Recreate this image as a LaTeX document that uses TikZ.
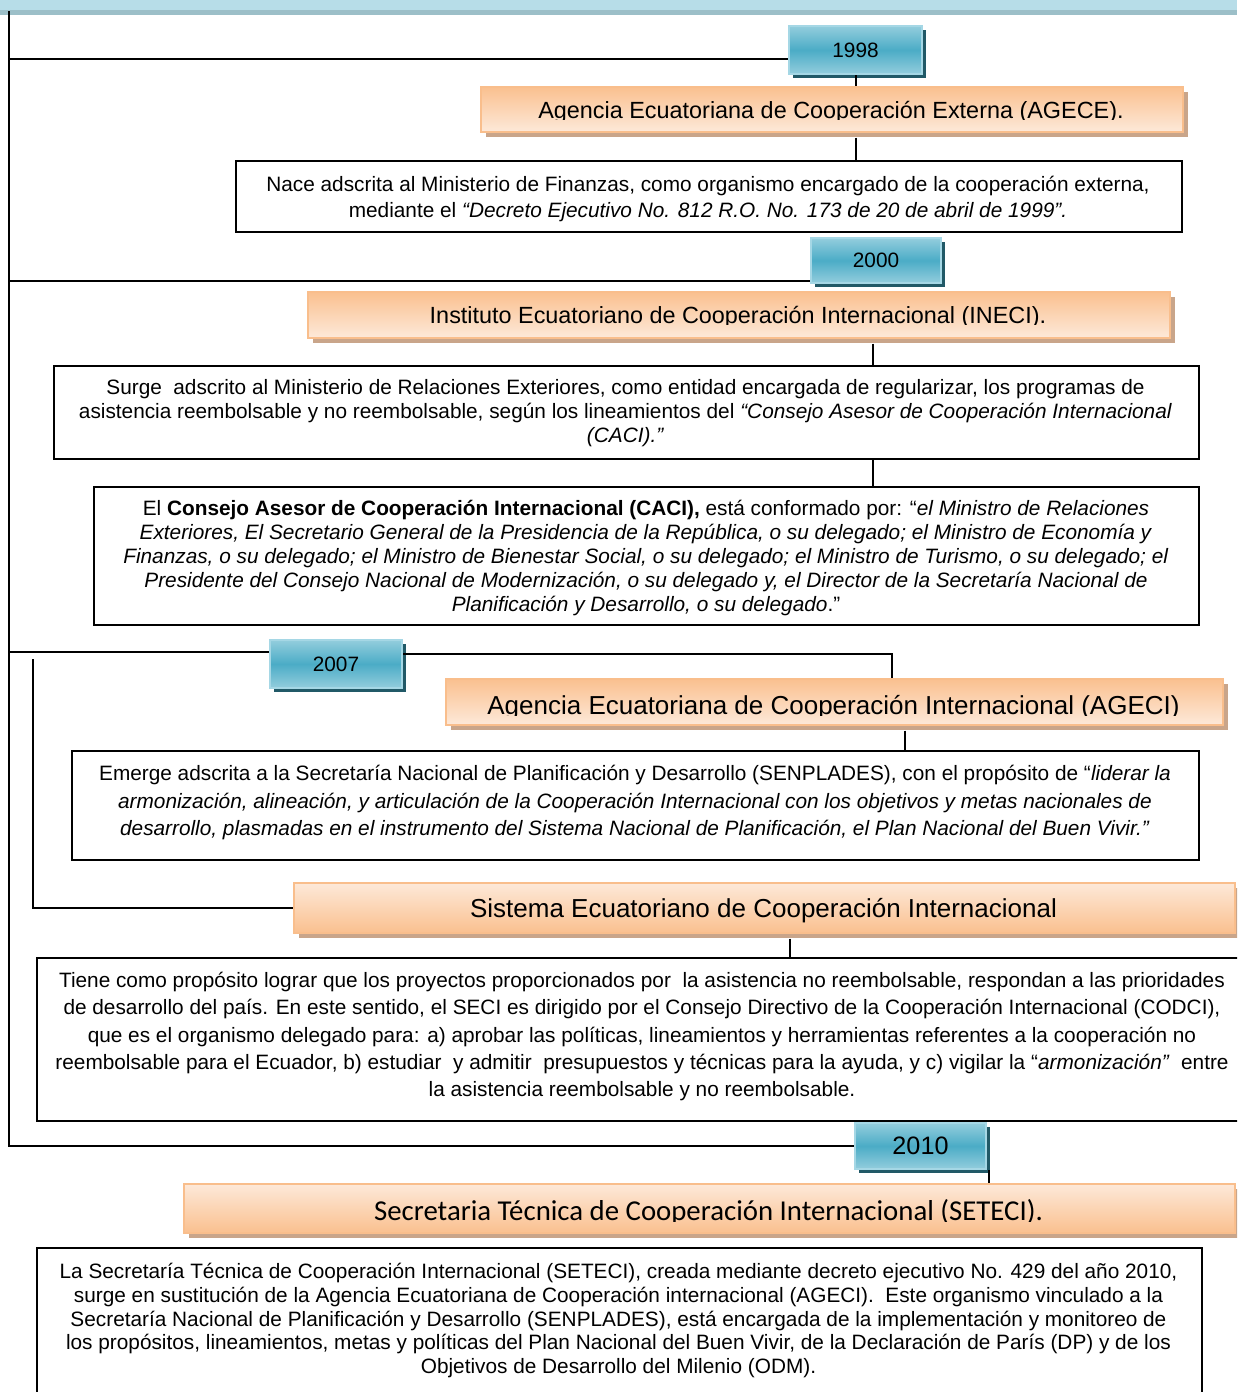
\documentclass[tikz,border=0pt]{standalone}
\usepackage{fontspec}
\setmainfont{Liberation Sans}
\newfontfamily\carlitofont{Carlito}
\usetikzlibrary{shadows}
\definecolor{yearlight}{HTML}{93CDDD}
\definecolor{yearmid}{HTML}{4BACC6}
\definecolor{yearedge}{HTML}{A5D7E5}
\definecolor{yearshadow}{HTML}{215967}
\definecolor{ordark}{HTML}{FAC08F}
\definecolor{orlight}{HTML}{FDE9D9}
\definecolor{oredge}{HTML}{F9BE8C}
\definecolor{tanshadow}{HTML}{C9A58A}
\definecolor{bandblue}{HTML}{B7DDE8}
\definecolor{bandstrip}{HTML}{9CBFC8}
\begin{document}
\begin{tikzpicture}[x=0.5pt,y=-0.5pt,
  conn/.style={line width=1pt, draw=black},
  yearbox/.style={draw=yearedge, line width=1pt, top color=yearlight, bottom color=yearlight, middle color=yearmid, inner sep=0pt, anchor=north west, font=\fontsize{10.4}{12}\selectfont, drop shadow={shadow xshift=2pt, shadow yshift=-2pt, fill=yearshadow, opacity=1}},
  titlebox/.style={draw=oredge, line width=0.8pt, top color=ordark, bottom color=orlight, inner sep=0pt, anchor=north west, drop shadow={shadow xshift=2.5pt, shadow yshift=-2.5pt, fill=tanshadow, opacity=1}},
  titleboxb/.style={titlebox, top color=orlight, bottom color=ordark},
  descbox/.style={draw=black, line width=1pt, inner sep=0pt, anchor=north west, fill=white},
  titletext/.style={inner sep=0pt, anchor=base, font=\fontsize{11.7}{14}\selectfont},
  desctext/.style={inner sep=0pt, align=center, font=\fontsize{10.4}{13}\selectfont},
]
\useasboundingbox (0,0) rectangle (1237,1392);
\clip (0,0) rectangle (1237,1392);
\fill[white] (0,0) rectangle (1237,1392);
\fill[bandblue] (0,0) rectangle (1237,10);
\fill[bandstrip] (0,10) rectangle (1237,15);

% ---------- 1998 ----------
\node[yearbox, minimum width=66.5pt, minimum height=24pt] (y1998) at (788,25) {1998};
\node[titlebox, minimum width=351pt, minimum height=22.5pt] (agece) at (480,86) {};
\begin{scope}
\clip (480,86) rectangle (1182,119.5);
\node[titletext] (agecet) at (831,118) {Agencia Ecuatoriana de Cooperación Externa (AGECE).};
\end{scope}
\node[descbox, minimum width=473pt, minimum height=35.5pt] (desc1) at (235,160) {};
\node[desctext] (desc1t) at (708,199) {Nace adscrita al Ministerio de Finanzas, como organismo encargado de la cooperación externa,\\
mediante el \textit{“Decreto Ejecutivo No. 812 R.O. No. 173 de 20 de abril de 1999”.}};

% ---------- 2000 ----------
\node[yearbox, minimum width=65pt, minimum height=22.5pt] (y2000) at (810,237) {2000};
\node[titlebox, minimum width=431pt, minimum height=23pt] (ineci) at (307,291) {};
\begin{scope}
\clip (307,291) rectangle (1169,324.5);
\node[titletext] (inecit) at (738,323) {Instituto Ecuatoriano de Cooperación Internacional (INECI).};
\end{scope}
\node[descbox, minimum width=572.5pt, minimum height=46.5pt] (desc2) at (53,365) {};
\node[desctext, font=\fontsize{10.4}{12}\selectfont] (desc2t) at (625.5,413) {Surge\ \ adscrito al Ministerio de Relaciones Exteriores, como entidad encargada de regularizar, los programas de\\
asistencia reembolsable y no reembolsable, según los lineamientos del \textit{“Consejo Asesor de Cooperación Internacional}\\
\textit{(CACI).”}};
\node[descbox, minimum width=552.5pt, minimum height=69pt] (desc3) at (93,486) {};
\node[desctext, font=\fontsize{10.4}{12}\selectfont] (desc3t) at (646,558) {El \textbf{Consejo Asesor de Cooperación Internacional (CACI),} está conformado por: “\textit{el Ministro de Relaciones}\\
\textit{Exteriores, El Secretario General de la Presidencia de la República, o su delegado; el Ministro de Economía y}\\
\textit{Finanzas, o su delegado; el Ministro de Bienestar Social, o su delegado; el Ministro de Turismo, o su delegado; el}\\
\textit{Presidente del Consejo Nacional de Modernización, o su delegado y, el Director de la Secretaría Nacional de}\\
\textit{Planificación y Desarrollo, o su delegado}.”};

% ---------- 2007 ----------
\node[yearbox, minimum width=66pt, minimum height=24pt] (y2007) at (269,639) {2007};
\node[titlebox, minimum width=388.5pt, minimum height=23pt] (ageci) at (445,678) {};
\begin{scope}
\clip (445,678) rectangle (1222,715.5);
\node[titletext, font=\fontsize{13}{15}\selectfont] (agecit) at (833.5,714) {Agencia Ecuatoriana de Cooperación Internacional (AGECI)};
\end{scope}
\node[descbox, minimum width=563.5pt, minimum height=54.5pt] (desc4) at (71,750) {};
\node[desctext, font=\fontsize{10.4}{13.75}\selectfont] (desc4t) at (635,802.5) {Emerge adscrita a la Secretaría Nacional de Planificación y Desarrollo (SENPLADES), con el propósito de “\textit{liderar la}\\
\textit{armonización, alineación, y articulación de la Cooperación Internacional con los objetivos y metas nacionales de}\\
\textit{desarrollo, plasmadas en el instrumento del Sistema Nacional de Planificación, el Plan Nacional del Buen Vivir.”}};

\node[titleboxb, minimum width=470.5pt, minimum height=25pt] (seci) at (293,882) {};
\node[titletext, font=\fontsize{13}{15}\selectfont] (secit) at (763.5,917) {Sistema Ecuatoriano de Cooperación Internacional};
\node[descbox, minimum width=607pt, minimum height=81.5pt] (desc5) at (36,957) {};
\node[desctext, font=\fontsize{10.4}{13.6}\selectfont] (desc5t) at (642,1036.5) {Tiene como propósito lograr que los proyectos proporcionados por\ \ la asistencia no reembolsable, respondan a las prioridades\\
de desarrollo del país. En este sentido, el SECI es dirigido por el Consejo Directivo de la Cooperación Internacional (CODCI),\\
que es el organismo delegado para: a) aprobar las políticas, lineamientos y herramientas referentes a la cooperación no\\
reembolsable para el Ecuador, b) estudiar\ \ y admitir\ \ presupuestos y técnicas para la ayuda, y c) vigilar la “\textit{armonización”}\ \ entre\\
la asistencia reembolsable y no reembolsable.};

% ---------- 2010 ----------
\node[yearbox, minimum width=65.5pt, minimum height=23pt, font=\fontsize{12.6}{14}\selectfont] (y2010) at (854,1122) {2010};
\node[titleboxb, minimum width=525.5pt, minimum height=24.5pt] (seteci) at (183,1183) {};
\begin{scope}
\clip (183,1183) rectangle (1234,1221.5);
\node[titletext, font=\carlitofont\fontsize{14.4}{16}\selectfont] (setecit) at (708.5,1220) {Secretaria Técnica de Cooperación Internacional (SETECI).};
\end{scope}
\node[descbox, minimum width=582.5pt, minimum height=100pt] (desc6) at (36,1247) {};
\node[desctext, font=\fontsize{10.4}{11.9}\selectfont] (desc6t) at (618.5,1320.5) {La Secretaría Técnica de Cooperación Internacional (SETECI), creada mediante decreto ejecutivo No. 429 del año 2010,\\
surge en sustitución de la Agencia Ecuatoriana de Cooperación internacional (AGECI).\ \ Este organismo vinculado a la\\
Secretaría Nacional de Planificación y Desarrollo (SENPLADES), está encargada de la implementación y monitoreo de\\
los propósitos, lineamientos, metas y políticas del Plan Nacional del Buen Vivir, de la Declaración de París (DP) y de los\\
Objetivos de Desarrollo del Milenio (ODM).};

% ---------- connectors ----------
\coordinate (spinetop) at (9,11);
\coordinate (j98) at (9,59);
\coordinate (j00) at (9,281);
\coordinate (j07) at (9,652);
\coordinate (k07) at (892,654);
\coordinate (x873) at (873,0);
\coordinate (x905) at (905,0);
\coordinate (x790) at (790,0);
\coordinate (sub) at (33,659);

\draw[conn] (spinetop) |- (y2010.west);
\draw[conn] (j98) -- (y1998.west |- j98);
\draw[conn] (y1998.south) -- (y1998.south |- agece.north);
\draw[conn] ([yshift=-2.5pt]agece.south -| y1998.south) -- (desc1.north -| y1998.south);
\draw[conn] (j00) -- (y2000.west |- j00);
\draw[conn] ([yshift=-2.5pt]ineci.south -| x873) -- (desc2.north -| x873);
\draw[conn] (desc2.south -| x873) -- (desc3.north -| x873);
\draw[conn] (j07) -- (y2007.west |- j07);
\draw[conn] (y2007.east |- k07) -- (k07) -- (k07 |- ageci.north);
\draw[conn] ([yshift=-2.5pt]ageci.south -| x905) -- (desc4.north -| x905);
\draw[conn] (sub) |- (seci.west);
\draw[conn] ([yshift=-2.5pt]seci.south -| x790) -- (desc5.north -| x790);
\draw[conn] ([xshift=1pt]y2010.south east) -- ([xshift=1pt]y2010.south east |- seteci.north);
\end{tikzpicture}
\end{document}
